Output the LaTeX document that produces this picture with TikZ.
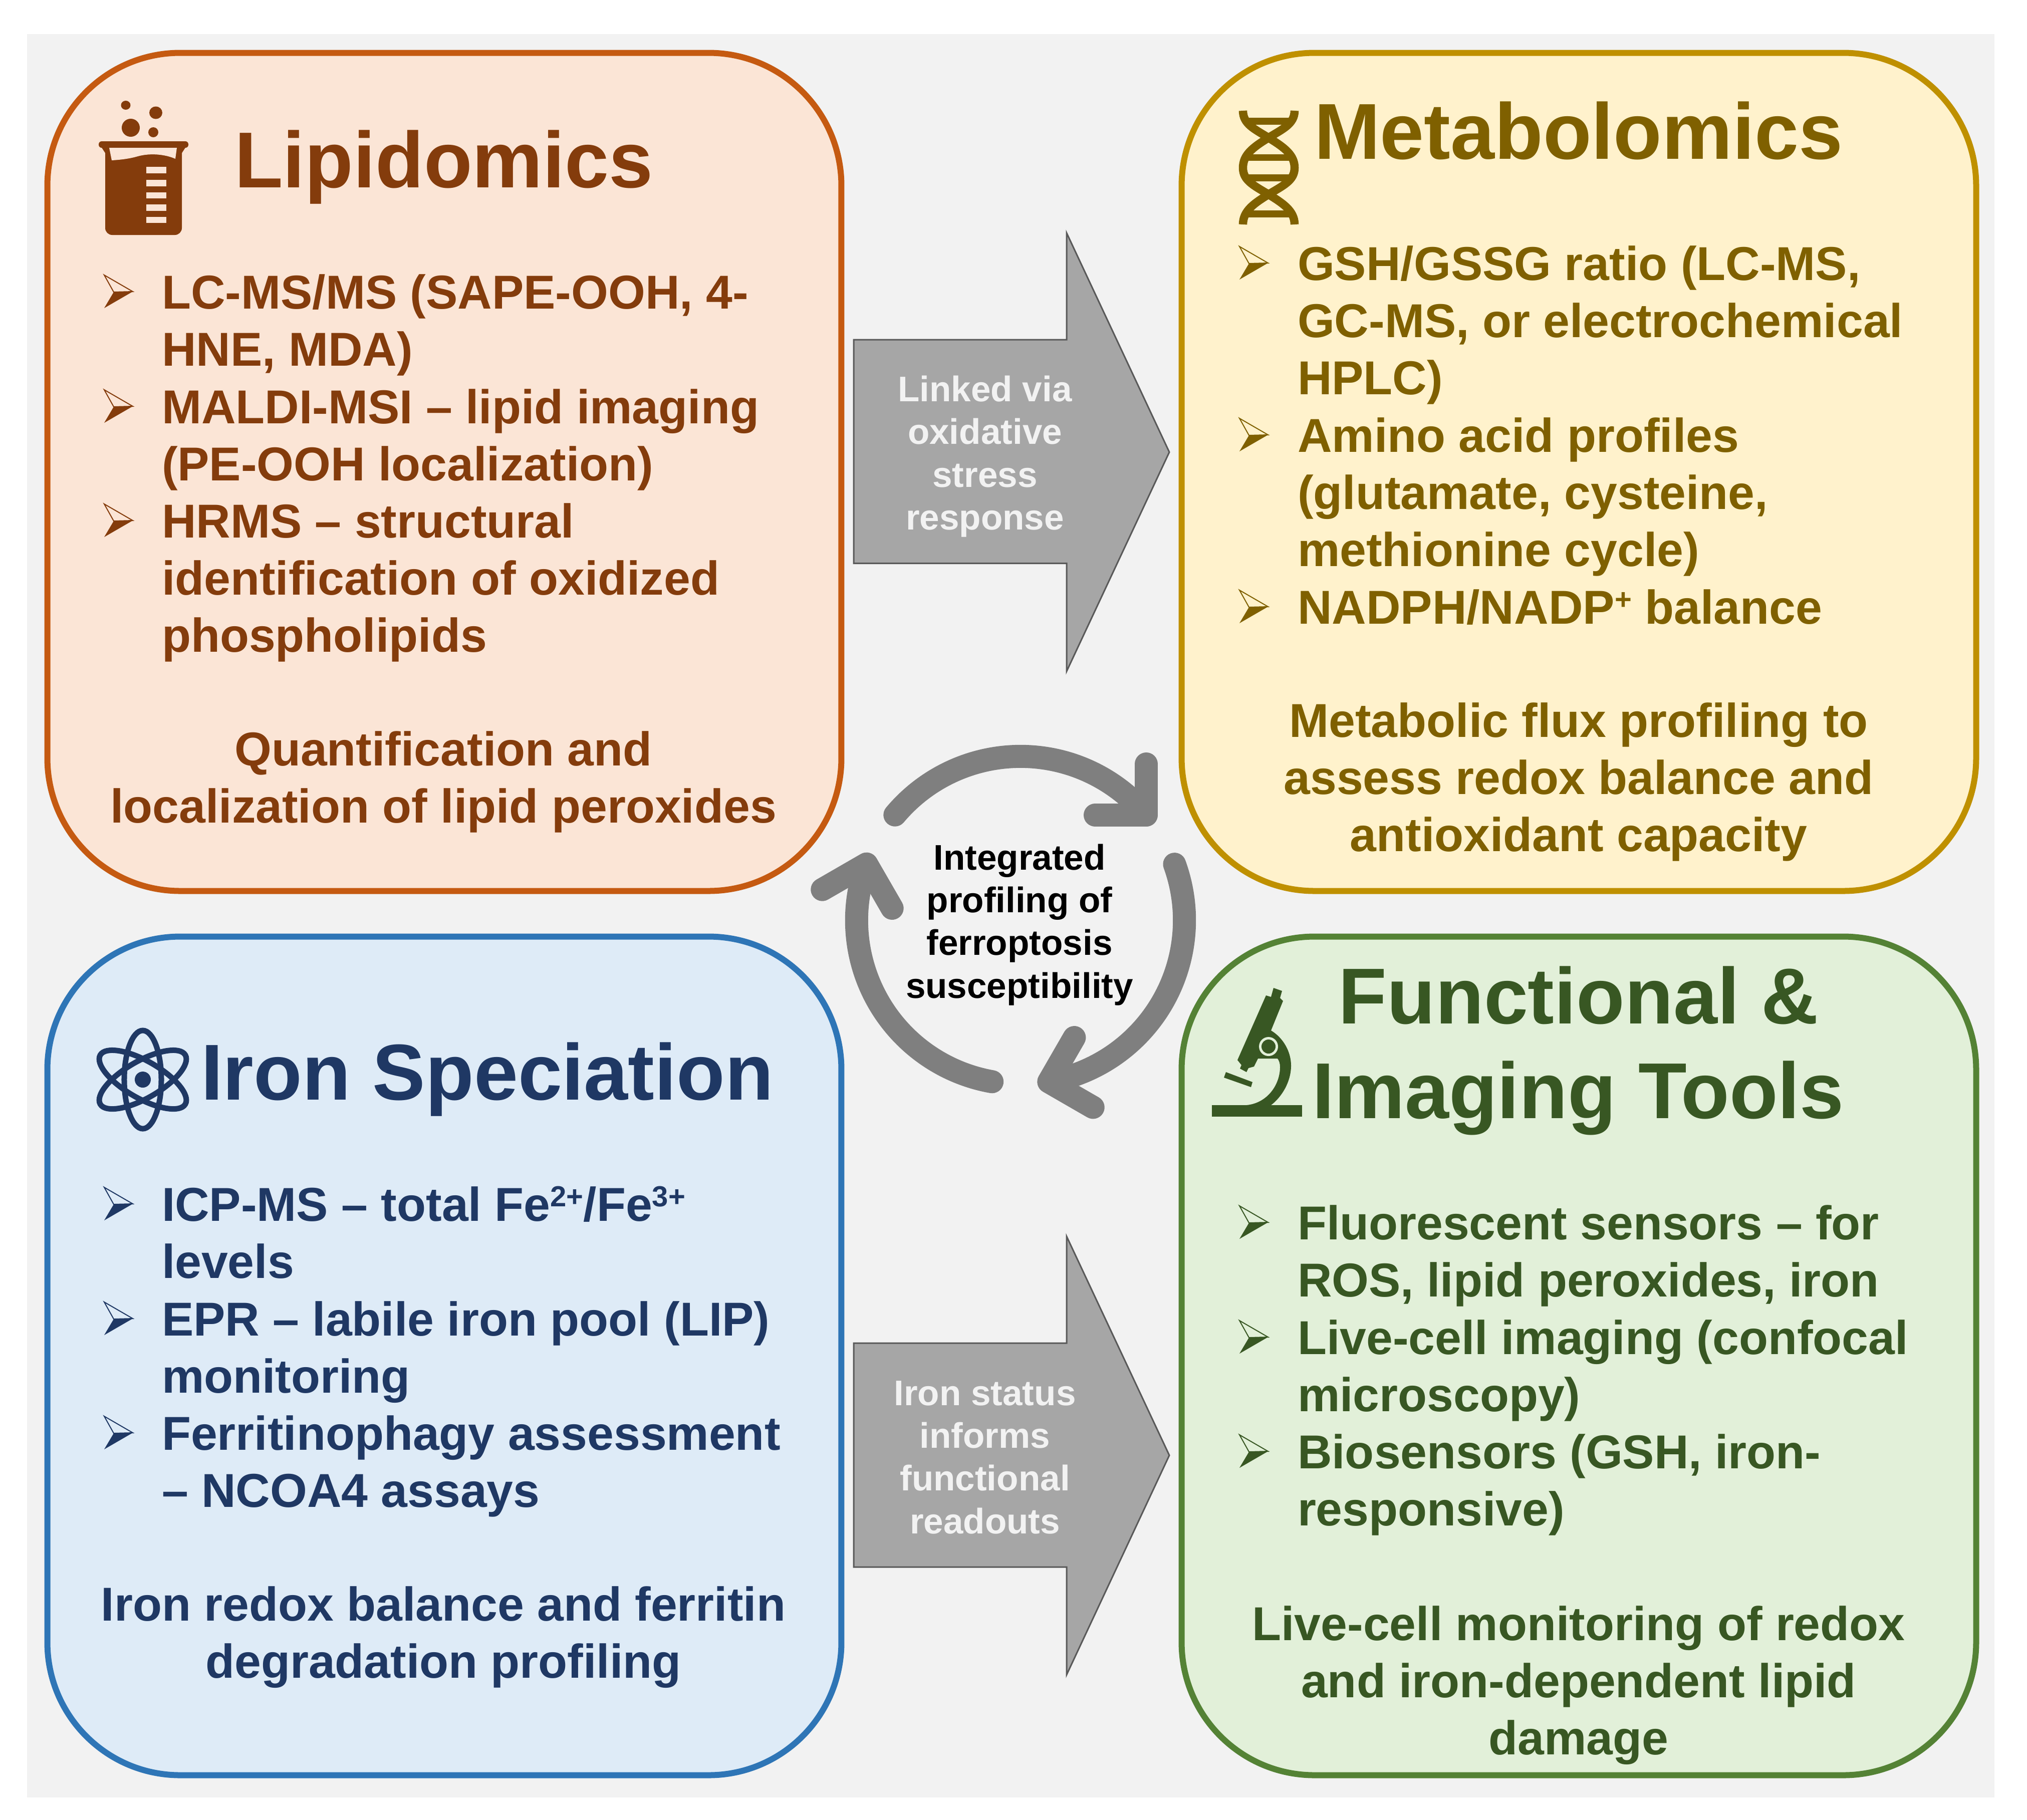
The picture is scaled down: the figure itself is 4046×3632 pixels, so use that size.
\documentclass[tikz,border=0pt]{standalone}
\usepackage{fontspec}
\setmainfont{Liberation Sans}
\definecolor{bgc}{HTML}{F2F2F2}
\definecolor{lipF}{HTML}{FBE5D6}\definecolor{lipS}{HTML}{C55A11}\definecolor{lipT}{HTML}{843C0C}
\definecolor{metF}{HTML}{FFF2CC}\definecolor{metS}{HTML}{BF9000}\definecolor{metT}{HTML}{7F6000}
\definecolor{ironF}{HTML}{DEEBF7}\definecolor{ironS}{HTML}{2E75B6}\definecolor{ironT}{HTML}{1F3864}
\definecolor{funF}{HTML}{E2F0D9}\definecolor{funS}{HTML}{548235}\definecolor{funT}{HTML}{385723}
\definecolor{arrF}{HTML}{A6A6A6}\definecolor{arrS}{HTML}{595959}\definecolor{cycC}{HTML}{7F7F7F}
\newcommand{\supr}[1]{\raisebox{0.3em}{\fontsize{16.5}{17}\selectfont #1}}
% bullet arrow, baseline at (#1,#2), colour #3
\newcommand{\bul}[3]{%
  \fill[#3] (#1+0,#2-1) -- (#1+57,#2-34) -- (#1+19,#2-33) -- cycle;
  \draw[#3,line width=0.02cm,line join=miter] (#1+0,#2-67) -- (#1+57,#2-34) -- (#1+19,#2-33) -- cycle;}
\tikzset{
  x=0.01cm,y=-0.01cm,
  panel/.style={rectangle,draw=#1,line width=0.12cm,rounded corners=2.65cm,inner sep=0pt,outer sep=0pt},
  ttl/.style={inner sep=0pt,outer sep=0pt,font=\fontsize{45}{54}\selectfont\bfseries,text=#1},
  bodytxt/.style={anchor=north west,yshift=0.8cm,inner sep=0pt,outer sep=0pt,align=left,
     font=\fontsize{27}{32.52}\selectfont\bfseries,text=#1},
  sumtxt/.style={anchor=north,yshift=0.8cm,inner sep=0pt,outer sep=0pt,align=center,
     font=\fontsize{27}{32.52}\selectfont\bfseries,text=#1},
  smalltxt/.style={anchor=north,yshift=0.6cm,inner sep=0pt,outer sep=0pt,align=center,
     font=\fontsize{20.2}{24.3}\selectfont\bfseries,text=#1},
  blockarrow/.style={fill=arrF,draw=arrS,line width=0.03cm,line join=miter},
  cycarc/.style={draw=cycC,line width=0.46cm,line cap=round,line join=round},
}
\newcommand{\fl}{\rule{0pt}{0.8cm}}
\newcommand{\fs}{\rule{0pt}{0.6cm}}
\begin{document}
\begin{tikzpicture}
\useasboundingbox (0,0) rectangle (4046,3632);
\fill[white] (0,0) rectangle (4046,3632);
\fill[bgc] (54,68) rectangle (3981,3588);

% panels
\node[panel=lipS,fill=lipF,minimum width=15.84cm,minimum height=16.72cm] (lipbox) at (887,942) {};
\node[panel=metS,fill=metF,minimum width=15.85cm,minimum height=16.72cm] (metbox) at (3151.5,942) {};
\node[panel=ironS,fill=ironF,minimum width=15.84cm,minimum height=16.73cm] (ironbox) at (887,2706.5) {};
\node[panel=funS,fill=funF,minimum width=15.85cm,minimum height=16.73cm] (funbox) at (3151.5,2706.5) {};

% titles
\node[ttl=lipT,anchor=base west] (liptitle) at (468,374) {Lipidomics};
\node[ttl=metT,anchor=base west] (mettitle) at (2623,317) {Metabolomics};
\node[ttl=ironT,anchor=base west] (irontitle) at (401,2195) {Iron Speciation};
\node[ttl=funT,anchor=base] (funtitle1) at (3151,2043) {Functional \&};
\node[ttl=funT,anchor=base] (funtitle2) at (3150,2232) {Imaging Tools};

% Lipidomics body
\bul{208}{616}{lipT}\bul{208}{845}{lipT}\bul{208}{1073}{lipT}
\node[bodytxt=lipT] (lip1) at (323,616) {\fl LC-MS/MS (SAPE-OOH, 4-\\HNE, MDA)};
\node[bodytxt=lipT] (lip2) at (323,845) {\fl MALDI-MSI – lipid imaging\\(PE-OOH localization)};
\node[bodytxt=lipT] (lip3) at (323,1073) {\fl HRMS – structural\\identification of oxidized\\phospholipids};
\node[sumtxt=lipT] (lip4) at (885,1528) {\fl Quantification and\\localization of lipid peroxides};

% Metabolomics body
\bul{2474}{559}{metT}\bul{2474}{902}{metT}\bul{2474}{1245}{metT}
\node[bodytxt=metT] (met1) at (2590,559) {\fl GSH/GSSG ratio (LC-MS,\\GC-MS, or electrochemical\\HPLC)};
\node[bodytxt=metT] (met2) at (2590,902) {\fl Amino acid profiles\\(glutamate, cysteine,\\methionine cycle)};
\node[bodytxt=metT] (met3) at (2590,1245) {\fl NADPH/NADP\supr{+} balance};
\node[sumtxt=metT] (met4) at (3151,1471) {\fl Metabolic flux profiling to\\assess redox balance and\\antioxidant capacity};

% Iron body
\bul{208}{2437}{ironT}\bul{208}{2666}{ironT}\bul{208}{2894}{ironT}
\node[bodytxt=ironT] (iron1) at (323,2437) {\fl ICP-MS – total Fe\supr{2+}/Fe\supr{3+}\\levels};
\node[bodytxt=ironT] (iron2) at (323,2666) {\fl EPR – labile iron pool (LIP)\\monitoring};
\node[bodytxt=ironT] (iron3) at (323,2894) {\fl Ferritinophagy assessment\\– NCOA4 assays};
\node[sumtxt=ironT] (iron4) at (885,3235) {\fl Iron redox balance and ferritin\\degradation profiling};

% Functional body
\bul{2474}{2474}{funT}\bul{2474}{2703}{funT}\bul{2474}{2931}{funT}
\node[bodytxt=funT] (fun1) at (2590,2474) {\fl Fluorescent sensors – for\\ROS, lipid peroxides, iron};
\node[bodytxt=funT] (fun2) at (2590,2703) {\fl Live-cell imaging (confocal\\microscopy)};
\node[bodytxt=funT] (fun3) at (2590,2931) {\fl Biosensors (GSH, iron-\\responsive)};
\node[sumtxt=funT] (fun4) at (3151,3274) {\fl Live-cell monitoring of redox\\and iron-dependent lipid\\damage};

% block arrows
\draw[blockarrow] (1704,678) -- (2129,678) -- (2129,465) -- (2334,902.5) -- (2129,1340) -- (2129,1124.5) -- (1704,1124.5) -- cycle;
\draw[blockarrow] (1704,2681) -- (2129,2681) -- (2129,2468) -- (2334,2905) -- (2129,3343) -- (2129,3128) -- (1704,3128) -- cycle;
\node[smalltxt=bgc] (arrtext1) at (1966,801.5) {\fs Linked via\\oxidative\\stress\\response};
\node[smalltxt=bgc] (arrtext2) at (1966,2805) {\fs Iron status\\informs\\functional\\readouts};

% cycle
\coordinate (cyc) at (2037,1837);
\foreach \r in {0,-120,-240}{
  \begin{scope}[rotate around={\r:(cyc)}]
    \draw[cycarc] (cyc) ++(140:3.27cm) arc[start angle=140,end angle=40,radius=3.27cm];
    \draw[cycarc] (2288,1525) -- (2288,1627) -- (2186,1627);
  \end{scope}
}
\node[smalltxt=black] (cyctext) at (2035,1736) {\fs Integrated\\profiling of\\ferroptosis\\susceptibility};

% beaker icon
\fill[lipT,rounded corners=0.14cm] (210,285) -- (363,285) -- (363,469) -- (210,469) -- cycle;
\fill[lipT,rounded corners=0.06cm] (197,282) -- (376,282) -- (376,295) -- (197,295) -- cycle;
\fill[lipT] (200,290) -- (213,310) -- (213,290) -- cycle (373,290) -- (360,310) -- (360,290) -- cycle;
\fill[lipF] (218,295) -- (353,295) -- (350,317) .. controls (330,308) and (300,305) .. (275,312) .. controls (258,317) and (240,319) .. (223,320) -- cycle;
\foreach \yy in {333,359,383.5,408,432.5} \fill[lipF] (292,\yy) rectangle (332,\yy+12.5);
\fill[lipT] (251,210) ellipse[x radius=0.095cm,y radius=0.09cm];
\fill[lipT] (311,225) ellipse[x radius=0.13cm,y radius=0.125cm];
\fill[lipT] (261,255) circle[radius=0.18cm];
\fill[lipT] (306,264) circle[radius=0.1cm];

% DNA icon
\begin{scope}[draw=metT,line width=0.165cm]
  \draw (2481,221) .. controls (2481,248) and (2505,258) .. (2532,275) .. controls (2565,295) and (2584,310) .. (2584,335) .. controls (2584,360) and (2562,370) .. (2532,388) .. controls (2505,405) and (2481,420) .. (2481,448);
  \draw (2584,221) .. controls (2584,248) and (2559,258) .. (2532,275) .. controls (2499,295) and (2481,310) .. (2481,335) .. controls (2481,360) and (2502,370) .. (2532,388) .. controls (2559,405) and (2584,420) .. (2584,448);
  \draw[line width=0.135cm] (2490,242) -- (2576,242) (2490,314.5) -- (2576,314.5) (2490,355) -- (2576,355) (2490,427) -- (2576,427);
\end{scope}

% atom icon
\begin{scope}[draw=ironT,line width=0.11cm]
  \foreach \a in {0,60,120}
    \draw[rotate around={\a:(285,2155)}] (285,2155) ellipse[x radius=0.37cm,y radius=0.98cm];
  \fill[ironT] (285,2155) circle[radius=0.16cm];
\end{scope}

% microscope icon
\fill[funT] (2419,2206) rectangle (2599,2229);
\fill[funT] (2542,1972) -- (2559,1978) -- (2555,1992) -- (2561,1998) -- (2537,2057) .. controls (2562,2072) and (2577,2100) .. (2577,2127) .. controls (2577,2160) and (2558,2190) .. (2537,2206) -- (2488,2206) .. controls (2530,2202) and (2555,2165) .. (2555,2130) .. controls (2555,2122) and (2553,2117) .. (2550,2113) -- (2511,2113) -- (2503,2129) -- (2492,2132) -- (2488,2140) -- (2475,2133) -- (2478,2126) -- (2470,2116) -- (2527,1987) -- (2537,1990) -- cycle;
\fill[funF] (2532,2089) circle[radius=0.19cm];
\fill[funT] (2532,2089) circle[radius=0.14cm];
\fill[funT] (2447,2140) -- (2500,2160) -- (2497,2170) -- (2443,2151) -- cycle;
\end{tikzpicture}
\end{document}
